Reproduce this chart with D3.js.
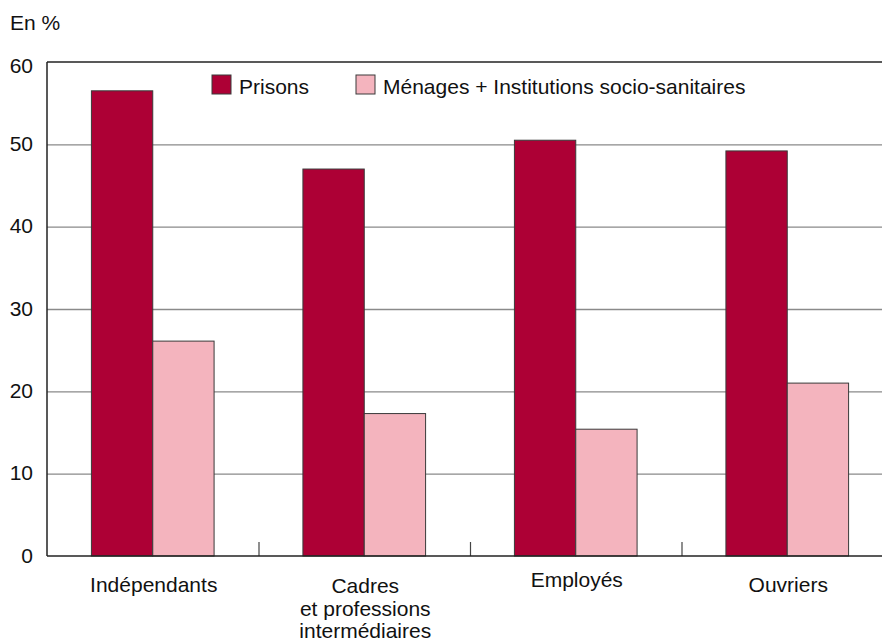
<!DOCTYPE html>
<html><head><meta charset="utf-8">
<script src="https://cdn.jsdelivr.net/npm/d3@7"></script>
<style>body{margin:0;background:#fff}svg{display:block;font-family:"Liberation Sans",Arial,sans-serif}</style>
</head><body><svg id="c" width="882" height="642"></svg>
<script>
const categories = ["Indépendants", "Cadres\net professions\nintermédiaires", "Employés", "Ouvriers"];
const seriesNames = ["Prisons", "Ménages + Institutions socio-sanitaires"];
const prisons = [56.5, 47.0, 50.5, 49.2];
const menages = [26.1, 17.3, 15.4, 21.0];
const yTicks = [0, 10, 20, 30, 40, 50, 60];
const labelDy = [0, 1, -5, 0];

const colors = ["#ad0035", "#f4b4be"];
const FS = 21;
const svg = d3.select("#c");
const m = {left: 47, top: 62, bottom: 556, right: 893};
const x = d3.scaleBand().domain(d3.range(categories.length)).range([m.left, m.right]).paddingInner(0).paddingOuter(0);
const y = d3.scaleLinear().domain([0, 60]).range([m.bottom, m.top]);
const inner = 0.58;
const xs = d3.scaleBand().domain([0, 1]).range([0, x.bandwidth() * inner]);
const off = x.bandwidth() * (1 - inner) / 2;

// gridlines
svg.append("g").selectAll("line").data(yTicks.filter(d => d > 0 && d < 60)).join("line")
  .attr("x1", m.left).attr("x2", 882).attr("y1", d => y(d) + 0.5).attr("y2", d => y(d) + 0.5)
  .attr("stroke", "#8a8a8a").attr("stroke-width", 1.3);

// frame
svg.append("line").attr("x1", m.left).attr("x2", 882).attr("y1", y(60)).attr("y2", y(60)).attr("stroke", "#222").attr("stroke-width", 1.5);
svg.append("line").attr("x1", m.left).attr("x2", m.left).attr("y1", y(60)).attr("y2", y(0)).attr("stroke", "#222").attr("stroke-width", 1.5);

// category ticks
svg.append("g").selectAll("line").data(d3.range(1, categories.length)).join("line")
  .attr("x1", i => x(i) + 0.5).attr("x2", i => x(i) + 0.5).attr("y1", y(0)).attr("y2", y(0) - 14)
  .attr("stroke", "#444").attr("stroke-width", 1.2);

// bars
const series = [prisons, menages];
series.forEach((vals, s) => {
  svg.append("g").selectAll("rect").data(vals).join("rect")
    .attr("x", (d, i) => x(i) + off + xs(s))
    .attr("y", d => y(d))
    .attr("width", xs.bandwidth())
    .attr("height", d => y(0) - y(d))
    .attr("fill", colors[s]).attr("stroke", "#3a3a3a").attr("stroke-width", 1);
});

// bottom axis line
svg.append("line").attr("x1", m.left).attr("x2", 882).attr("y1", y(0)).attr("y2", y(0)).attr("stroke", "#222").attr("stroke-width", 1.5);

// y labels
svg.append("g").selectAll("text").data(yTicks).join("text")
  .attr("x", 33).attr("y", d => y(d) + (d === 60 ? 11 : 6.5)).attr("text-anchor", "end")
  .attr("font-size", FS).attr("fill", "#111").text(d => d);

svg.append("text").attr("x", 10).attr("y", 30).attr("font-size", FS).attr("fill", "#111").text("En %");

// category labels
categories.forEach((c, i) => {
  const cx = x(i) + x.bandwidth() / 2 + 1;
  const t = svg.append("text").attr("text-anchor", "middle").attr("font-size", FS).attr("fill", "#111")
    .attr("x", cx).attr("y", 592 + labelDy[i]);
  c.split("\n").forEach((ln, k) => t.append("tspan").attr("x", cx).attr("dy", k ? 22.5 : 0).text(ln));
});

// legend
const lg = [{x: 212, t: seriesNames[0]}, {x: 356, t: seriesNames[1]}];
lg.forEach((l, s) => {
  svg.append("rect").attr("x", l.x).attr("y", 75).attr("width", 19).attr("height", 19)
    .attr("fill", colors[s]).attr("stroke", "#3a3a3a").attr("stroke-width", 1);
  svg.append("text").attr("x", l.x + 27).attr("y", 94).attr("font-size", FS).attr("fill", "#111").text(l.t);
});
</script></body></html>
